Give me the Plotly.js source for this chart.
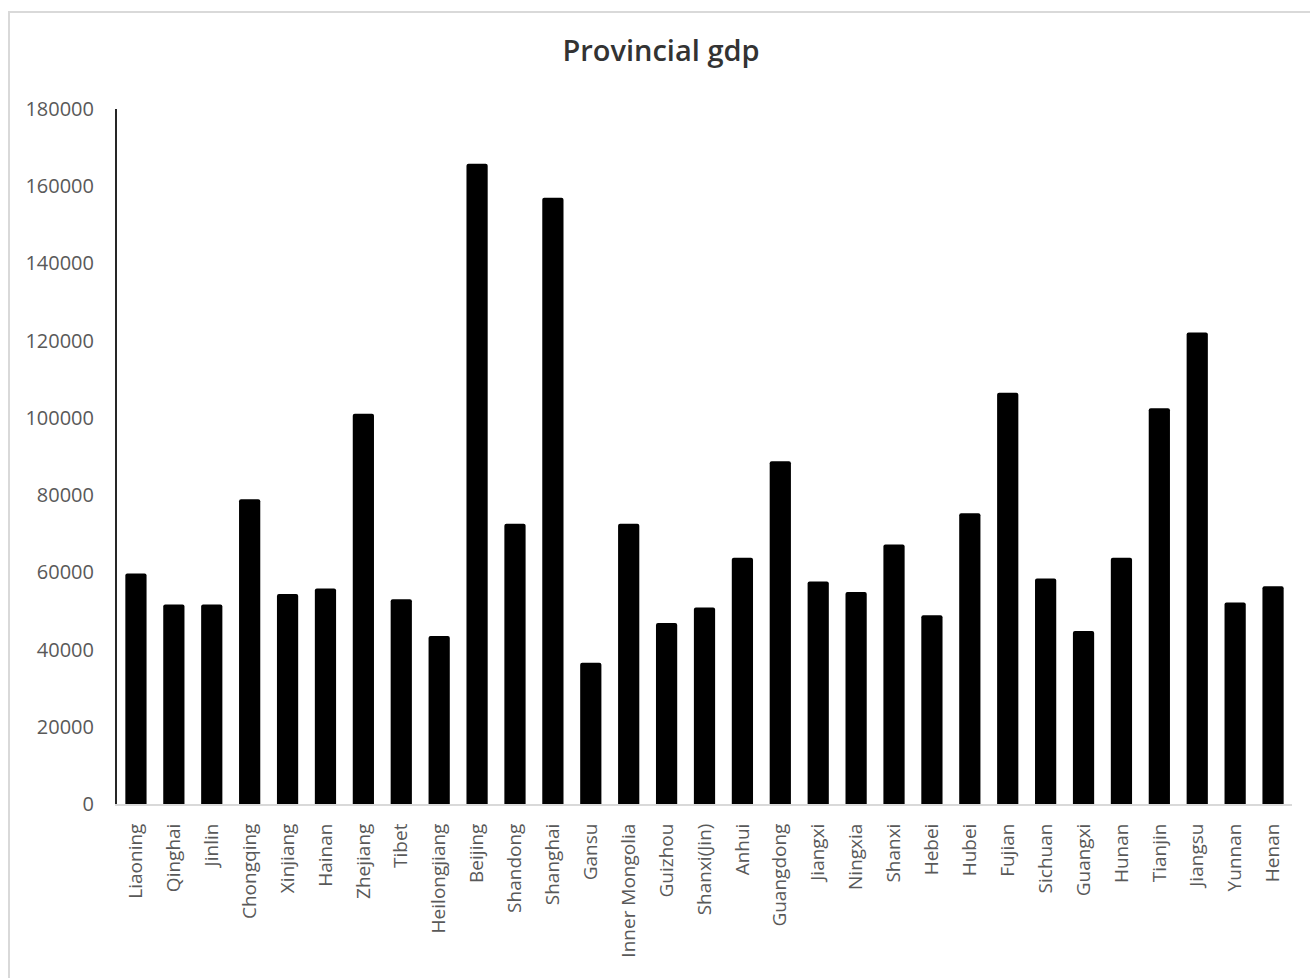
<!DOCTYPE html>
<html>
<head>
<meta charset="utf-8">
<script src="https://cdn.plot.ly/plotly-3.0.1.min.js"></script>
<style>
  html, body { margin: 0; padding: 0; background: #ffffff; overflow: hidden; }
  #frame { position: absolute; left: 8px; top: 11px; width: 1320px; height: 1000px;
           border: 2px solid #d9d9d9; box-sizing: border-box; pointer-events: none; }
  #chart { position: absolute; left: 0; top: 0; width: 1310px; height: 978px; }
</style>
</head>
<body>
<div id="chart"></div>
<div id="frame"></div>
<script>
// Per-capita GDP by province (yuan)
const provinces = [
  "Liaoning", "Qinghai", "Jinlin", "Chongqing", "Xinjiang", "Hainan", "Zhejiang", "Tibet",
  "Heilongjiang", "Beijing", "Shandong", "Shanghai", "Gansu", "Inner Mongolia", "Guizhou",
  "Shanxi(Jin)", "Anhui", "Guangdong", "Jiangxi", "Ningxia", "Shanxi", "Hebei", "Hubei",
  "Fujian", "Sichuan", "Guangxi", "Hunan", "Tianjin", "Jiangsu", "Yunnan", "Henan"
];
const gdp = [
  59700, 51700, 51700, 78900, 54400, 55800, 101100, 53000,
  43500, 165800, 72600, 157000, 36600, 72600, 46900,
  50900, 63800, 88800, 57600, 54900, 67200, 48900, 75300,
  106500, 58400, 44800, 63800, 102500, 122100, 52200, 56400
];
const yTicks = [0, 20000, 40000, 60000, 80000, 100000, 120000, 140000, 160000, 180000];

const trace = {
  type: "bar",
  x: provinces,
  y: gdp,
  marker: { color: "#000000", cornerradius: 2, line: { width: 0 } },
  hoverinfo: "x+y"
};

const yFont = { family: "Open Sans, Liberation Sans, sans-serif", size: 20, color: "#595959" };
const xFont = { family: "Open Sans, Liberation Sans, sans-serif", size: 19, color: "#595959" };

const layout = {
  width: 1310,
  height: 978,
  margin: { l: 117, r: 18, t: 109, b: 174 },
  paper_bgcolor: "rgba(0,0,0,0)",
  plot_bgcolor: "#ffffff",
  showlegend: false,
  bargap: 0.44,
  title: {
    text: "Provincial gdp",
    font: { family: "Open Sans, Liberation Sans, sans-serif", size: 29, color: "#333333", weight: 600 },
    x: 661 / 1310, xref: "container", xanchor: "center",
    y: 1 - 51 / 978, yref: "container", yanchor: "middle"
  },
  xaxis: {
    type: "category",
    tickangle: -90,
    tickfont: xFont,
    ticks: "",
    ticklabelstandoff: 10,
    showgrid: false,
    zeroline: false,
    showline: true,
    linecolor: "#d9d9d9",
    linewidth: 2
  },
  yaxis: {
    range: [0, 180000],
    tickvals: yTicks,
    ticktext: yTicks.map(String),
    tickfont: yFont,
    ticks: "",
    ticklabelstandoff: 17,
    showgrid: false,
    zeroline: false,
    showline: true,
    linecolor: "#262626",
    linewidth: 2
  }
};

Plotly.newPlot("chart", [trace], layout, { displayModeBar: false, staticPlot: true });
</script>
</body>
</html>
